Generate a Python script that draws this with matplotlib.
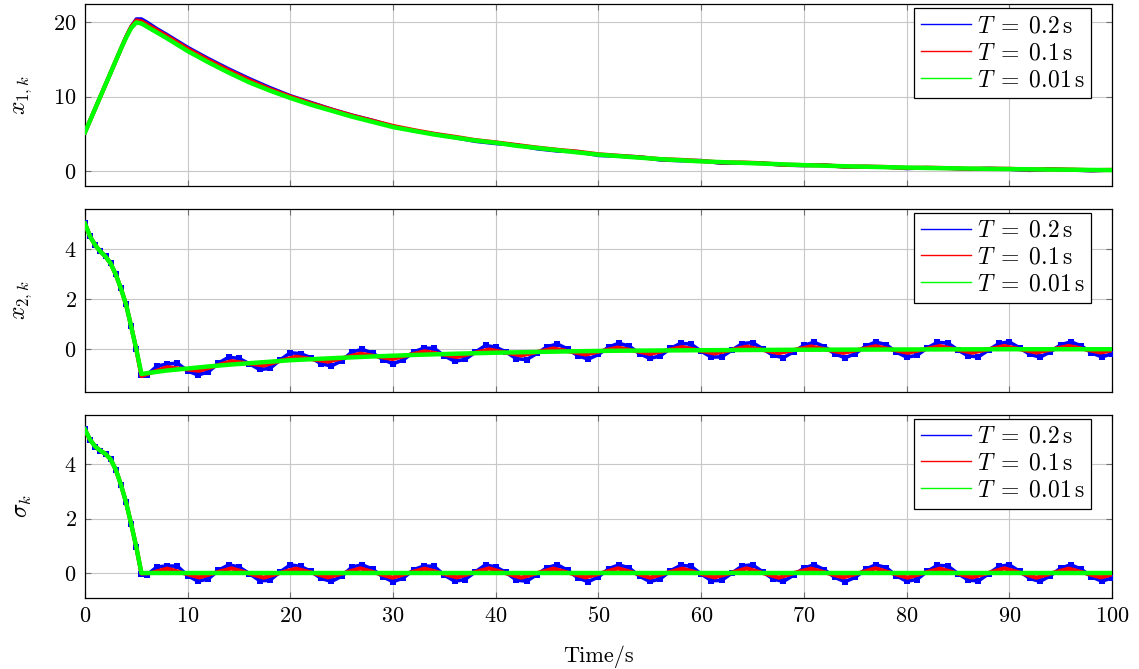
import numpy as np
import matplotlib
matplotlib.use("Agg")
import matplotlib.pyplot as plt
from matplotlib.lines import Line2D

plt.rcParams['font.family'] = 'serif'
plt.rcParams['font.serif'] = ['cmr10']
plt.rcParams['mathtext.fontset'] = 'cm'
plt.rcParams['axes.formatter.use_mathtext'] = True
plt.rcParams['font.size'] = 16

# ---- data ----
labels = [r'$T\;=\;0.2\,\mathrm{s}$', r'$T\;=\;0.1\,\mathrm{s}$', r'$T\;=\;0.01\,\mathrm{s}$']
colors = ['#0000ff', '#ff0000', '#00ff00']

# start-up transient, sampled every 0.5 s
t_start = [0.0, 0.5, 1.0, 1.5, 2.0, 2.5, 3.0, 3.5, 4.0, 4.5, 5.0, 5.5]

# panel 1: x1 (coarse grid after the peak)
t_x1 = t_start + [6, 7, 8, 10, 12, 14, 16, 18, 20, 22, 24, 26, 28, 30, 32, 34, 36, 38, 40,
                  42, 44, 46, 48, 50, 52, 54, 56, 58, 60, 62, 64, 66, 68, 70, 72, 74, 76,
                  78, 80, 82, 84, 86, 88, 90, 92, 94, 96, 98, 100]
x1_green = [5.2, 6.8, 8.4, 10.0, 11.6, 13.2, 14.8, 16.4, 17.9, 19.2, 19.95, 19.8,
            19.4, 18.6, 17.8, 16.1, 14.6, 13.2, 11.9, 10.8, 9.8, 8.9, 8.1, 7.3, 6.6, 5.9,
            5.4, 4.9, 4.5, 4.1, 3.8, 3.4, 3.1, 2.8, 2.5, 2.2, 2.0, 1.8, 1.6, 1.45, 1.3,
            1.2, 1.1, 1.0, 0.9, 0.8, 0.72, 0.65, 0.58, 0.52, 0.47, 0.42, 0.38, 0.34, 0.3,
            0.27, 0.24, 0.2, 0.18, 0.15, 0.13]
x1_red = [5.2, 6.8, 8.4, 10.0, 11.6, 13.2, 14.8, 16.4, 18.0, 19.35, 20.2, 20.1,
          19.7, 18.9, 18.1, 16.4, 14.9, 13.5, 12.2, 11.0, 10.0, 9.1, 8.25, 7.45, 6.75, 6.05,
          5.5, 5.0, 4.6, 4.15, 3.85, 3.5, 3.15, 2.85, 2.6, 2.25, 2.05, 1.85, 1.6, 1.5, 1.35,
          1.15, 1.15, 1.05, 0.85, 0.8, 0.78, 0.6, 0.6, 0.55, 0.42, 0.45, 0.4, 0.3, 0.33,
          0.3, 0.2, 0.25, 0.2, 0.12, 0.16]
x1_blue = [5.2, 6.8, 8.4, 10.0, 11.6, 13.2, 14.8, 16.4, 18.0, 19.4, 20.4, 20.4,
           20.0, 19.1, 18.3, 16.6, 15.1, 13.7, 12.4, 11.2, 10.1, 9.2, 8.3, 7.5, 6.8, 6.0,
           5.4, 5.0, 4.5, 4.0, 3.7, 3.5, 3.0, 2.7, 2.6, 2.1, 2.0, 1.9, 1.5, 1.4, 1.4,
           1.05, 1.1, 1.05, 0.8, 0.75, 0.8, 0.55, 0.6, 0.55, 0.35, 0.45, 0.4, 0.25, 0.35,
           0.25, 0.1, 0.25, 0.15, 0.05, 0.15]

# sliding phase grids
t_step = list(range(6, 101))                           # T = 0.2 s samples
t_wave = list(np.linspace(6.43, 98.9125, 60)) + [100]  # quarter periods, T = 0.1 s

# panel 2: x2
x2_start = [5.02, 4.5, 4.15, 3.9, 3.7, 3.42, 2.98, 2.42, 1.78, 0.9, -0.02, -1.0]
t_x2_green = t_start + [6, 8, 10, 12, 14, 16, 18, 20, 24, 28, 32, 36, 40, 44, 48, 52, 56,
                        60, 70, 80, 90, 100]
x2_green = x2_start + [-0.97, -0.86, -0.78, -0.70, -0.63, -0.57, -0.51, -0.45, -0.37,
                       -0.30, -0.24, -0.19, -0.15, -0.12, -0.09, -0.07, -0.06, -0.05,
                       -0.03, -0.02, -0.01, -0.01]
x2_red = x2_start[:-1] + [-1.08] + [
    -0.95, -0.73, -0.80, -0.87, -0.68, -0.49, -0.575, -0.66, -0.48, -0.31,
    -0.41, -0.505, -0.35, -0.19, -0.29, -0.40, -0.245, -0.095, -0.205, -0.32,
    -0.17, -0.025, -0.14, -0.26, -0.12, 0.02, -0.10, -0.22, -0.08, 0.055,
    -0.07, -0.195, -0.06, 0.075, -0.05, -0.177, -0.044, 0.09, -0.037, -0.164,
    -0.032, 0.10, -0.028, -0.156, -0.024, 0.108, -0.021, -0.15, -0.019, 0.112,
    -0.017, -0.146, -0.015, 0.116, -0.013, -0.142, -0.012, 0.119, -0.011, -0.14,
    -0.05]
x2_blue = x2_start[:-1] + [-1.05] + [
    -1.05, -0.69, -0.60, -0.57, -0.88, -1.04, -0.92, -0.565, -0.33, -0.38,
    -0.59, -0.82, -0.78, -0.44, -0.15, -0.19, -0.35, -0.59, -0.68, -0.47,
    -0.115, -0.02, -0.16, -0.425, -0.59, -0.435, -0.12, 0.033, 0.025, -0.28,
    -0.49, -0.42, -0.13, 0.14, 0.07, -0.12, -0.39, -0.425, -0.18, 0.09,
    0.195, 0.0, -0.27, -0.405, -0.22, 0.083, 0.227, 0.11, -0.187, -0.375,
    -0.282, 0.02, 0.223, 0.196, -0.09, -0.325, -0.315, -0.045, 0.215, 0.255,
    0.005, -0.255, -0.345, -0.115, 0.145, 0.27, 0.09, -0.19, -0.35, -0.19,
    0.115, 0.275, 0.175, -0.125, -0.325, -0.26, 0.04, 0.26, 0.24, -0.04,
    -0.28, -0.31, -0.04, 0.22, 0.28, 0.045, -0.215, -0.325, -0.115, 0.165,
    0.285, 0.125, -0.155, -0.315, -0.195]

# panel 3: sigma
s_start = [5.28, 4.9, 4.65, 4.5, 4.38, 4.18, 3.8, 3.25, 2.6, 1.8, 0.95, 0.0]
t_s_green = t_start + [100]
s_green = s_start + [0.0]
s_red = s_start[:-1] + [-0.02] + [
    0.00, 0.16, 0.00, -0.16, 0.01, 0.17, 0.00, -0.17, 0.00, 0.16,
    0.01, -0.16, 0.00, 0.17, 0.00, -0.17, 0.00, 0.16, 0.00, -0.16,
    0.01, 0.17, 0.00, -0.17, 0.00, 0.16, 0.00, -0.16, 0.00, 0.17,
    0.01, -0.17, 0.00, 0.16, 0.00, -0.16, 0.00, 0.17, 0.00, -0.17,
    0.01, 0.16, 0.00, -0.16, 0.00, 0.17, 0.00, -0.17, 0.00, 0.16,
    0.00, -0.16, 0.00, 0.17, 0.01, -0.17, 0.00, 0.16, 0.00, -0.16,
    -0.05]
s_blue = s_start[:-1] + [-0.05] + [
    -0.08, 0.22, 0.26, 0.25, -0.10, -0.30, -0.22, 0.10, 0.30, 0.22,
    -0.02, -0.28, -0.27, 0.04, 0.30, 0.24, 0.06, -0.20, -0.31, -0.12,
    0.22, 0.30, 0.14, -0.14, -0.32, -0.18, 0.12, 0.26, 0.24, -0.08,
    -0.30, -0.24, 0.04, 0.30, 0.22, 0.02, -0.26, -0.30, -0.06, 0.20,
    0.30, 0.10, -0.18, -0.32, -0.14, 0.16, 0.30, 0.18, -0.12, -0.31,
    -0.22, 0.08, 0.28, 0.25, -0.04, -0.28, -0.27, 0.00, 0.26, 0.30,
    0.04, -0.22, -0.31, -0.08, 0.18, 0.30, 0.12, -0.16, -0.32, -0.16,
    0.14, 0.30, 0.20, -0.10, -0.30, -0.24, 0.06, 0.28, 0.26, -0.02,
    -0.26, -0.29, -0.02, 0.24, 0.30, 0.06, -0.20, -0.31, -0.10, 0.18,
    0.30, 0.14, -0.14, -0.30, -0.18]

panels = [
    dict(ylabel=r'$x_{1,k}$', ylim=(-2.0, 22.35), yticks=[0, 10, 20],
         blue=(t_x1, x1_blue), red=(t_x1, x1_red), green=(t_x1, x1_green),
         rect=[0.0746, 0.7220, 0.9017, 0.2713]),
    dict(ylabel=r'$x_{2,k}$', ylim=(-1.72, 5.6), yticks=[0, 2, 4],
         blue=(t_start + t_step, x2_blue),
         red=(t_start + t_wave, x2_red), green=(t_x2_green, x2_green),
         rect=[0.0746, 0.4141, 0.9017, 0.2735]),
    dict(ylabel=r'$\sigma_k$', ylim=(-0.92, 5.81), yticks=[0, 2, 4],
         blue=(t_start + t_step, s_blue),
         red=(t_start + t_wave, s_red), green=(t_s_green, s_green),
         rect=[0.0746, 0.1061, 0.9017, 0.2735]),
]

fig = plt.figure(figsize=(11.39, 6.69), dpi=100)

for i, p in enumerate(panels):
    ax = fig.add_axes(p['rect'])
    mk = None if i == 0 else 's'
    ax.plot(p['blue'][0], p['blue'][1], color=colors[0], lw=2.6, marker=mk, ms=4.5,
            mew=0, zorder=3)
    ax.plot(p['red'][0], p['red'][1], color=colors[1], lw=3, zorder=4)
    ax.plot(p['green'][0], p['green'][1], color=colors[2], lw=3.2, zorder=5)

    ax.set_xlim(0, 100)
    ax.set_ylim(*p['ylim'])
    ax.set_xticks(range(0, 101, 10))
    ax.set_yticks(p['yticks'])
    ax.grid(True, color='#c8c8c8', lw=0.8)
    ax.set_axisbelow(True)
    ax.tick_params(direction='in', length=4, color='#707070', top=True, right=True,
                   labelsize=16, pad=6)
    for s in ax.spines.values():
        s.set_linewidth(0.9)
    if i < 2:
        ax.tick_params(labelbottom=False)
    ax.set_ylabel(p['ylabel'], fontsize=17)
    ax.yaxis.set_label_coords(-0.05, 0.5)

    handles = [Line2D([], [], color=c, lw=1) for c in colors]
    leg = ax.legend(handles, labels, loc='upper right', bbox_to_anchor=(0.98, 0.98),
                    borderaxespad=0, fancybox=False, framealpha=1, edgecolor='black',
                    fontsize=17, handlelength=2.1, labelspacing=0.2, borderpad=0.3,
                    handletextpad=0.25)
    leg.get_frame().set_linewidth(0.9)
    leg.set_zorder(10)

    if i == 2:
        ax.set_xlabel('Time/s', fontsize=16, labelpad=14)

fig.savefig('out.png', dpi=100)
